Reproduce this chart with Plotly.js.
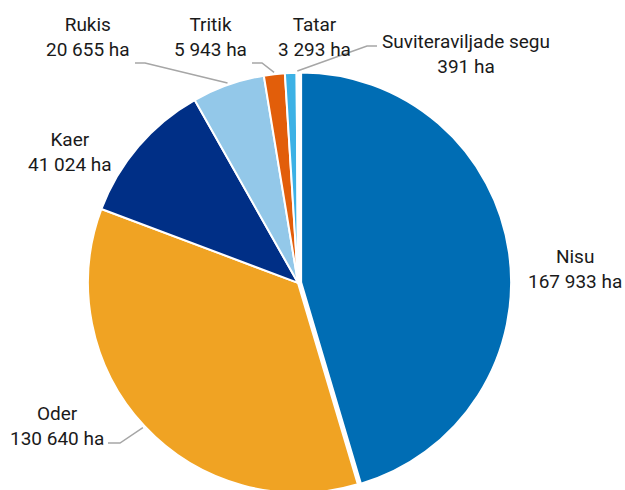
<!DOCTYPE html>
<html><head><meta charset="utf-8">
<script src="https://cdn.plot.ly/plotly-3.0.1.min.js"></script>
<style>html,body{margin:0;padding:0;overflow:hidden;background:#fff}#chart{width:625px;height:496px}</style>
</head><body><div id="chart"></div>
<script>
// ---- data ----
const categories = ["Nisu", "Oder", "Kaer", "Rukis", "Tritik", "Tatar", "Suviteraviljade segu"];
const areas = [167933, 130640, 41024, 20655, 5943, 3293, 391];
const unit = "ha";

// ---- styles ----
const colors = ["#006DB4", "#F0A323", "#002F86", "#93C8E9", "#E25E0A", "#3CB1E5", "#A6A6A6"];
const pulls = [0.015, 0, 0, 0, 0, 0, 0];

// ---- layout geometry (pixels) ----
const W = 625, H = 496;
const cx = 298, cy = 283, R = 210;
const maxPull = Math.max(...pulls);
const half = R * (1 + maxPull);
const labelPos = {
  "Nisu": [575, 268.5],
  "Oder": [57, 425.5],
  "Kaer": [70, 152],
  "Rukis": [88, 37.5],
  "Tritik": [210, 37.5],
  "Tatar": [314, 37.5],
  "Suviteraviljade segu": [466, 54]
};
const leaderElbows = {
  "Rukis": [[135, 63], [145, 63]],
  "Tritik": [[252, 63], [262, 63]],
  "Suviteraviljade segu": [[377, 46], [367, 46]],
  "Oder": [[108, 443], [120, 443]]
};

const px = x => x / W;
const py = y => 1 - y / H;
const fmt = v => v.toLocaleString('en-US').replace(/,/g, ' ');

const total = areas.reduce((a, b) => a + b, 0);
let cum = 0;
const annotations = [];
const shapes = [];
categories.forEach((c, i) => {
  const mid = (cum + areas[i] / 2) / total;
  cum += areas[i];
  const th = 2 * Math.PI * mid;
  const ax = cx + (R + 2) * Math.sin(th);
  const ay = cy - (R + 2) * Math.cos(th);
  const lp = labelPos[c];
  annotations.push({
    text: c + "<br>" + fmt(areas[i]) + " " + unit,
    x: px(lp[0]), y: py(lp[1]), xref: 'paper', yref: 'paper',
    xanchor: 'center', yanchor: 'middle', showarrow: false, align: 'center',
    font: {family: 'Roboto, sans-serif', size: 19, color: '#1a1a1a'}
  });
  if (leaderElbows[c]) {
    const pts = leaderElbows[c].concat([[ax, ay]]);
    const path = pts.map((p, k) => (k ? 'L' : 'M') + px(p[0]) + ',' + py(p[1])).join(' ');
    shapes.push({type: 'path', xref: 'paper', yref: 'paper', path: path,
      line: {color: '#A6A6A6', width: 1.5}});
  }
});

const trace = {
  type: 'pie',
  labels: categories,
  values: areas,
  sort: false,
  direction: 'clockwise',
  rotation: 0,
  pull: pulls,
  textinfo: 'none',
  hoverinfo: 'skip',
  showlegend: false,
  marker: {colors: colors, line: {color: '#ffffff', width: 2}},
  domain: {x: [px(cx - half), px(cx + half)], y: [0, (2 * half) / H]}
};

Plotly.newPlot('chart', [trace], {
  width: W, height: H,
  margin: {l: 0, r: 0, t: 0, b: 0},
  paper_bgcolor: '#ffffff',
  showlegend: false,
  annotations: annotations,
  shapes: shapes
}, {staticPlot: true});
</script>
</body></html>
